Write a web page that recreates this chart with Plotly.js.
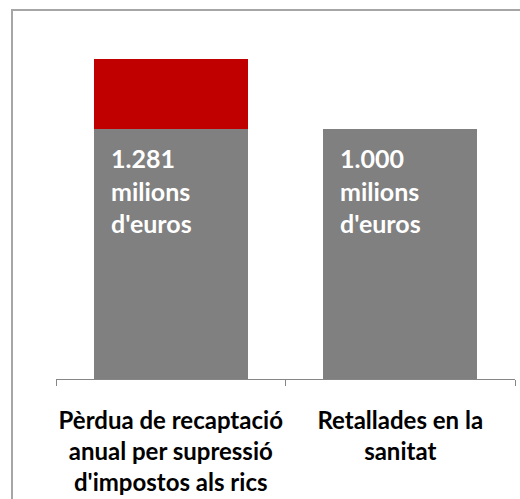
<!DOCTYPE html>
<html>
<head>
<meta charset="utf-8">
<script src="https://cdn.plot.ly/plotly-3.0.1.min.js"></script>
<style>
html,body{margin:0;padding:0;background:#fff;overflow:hidden;}
#wrap{position:relative;width:520px;height:499px;}
#chart{position:absolute;left:0;top:0;width:520px;height:499px;}
#frame{position:absolute;left:11px;top:9px;width:600px;height:600px;border:2px solid #a6a6a6;pointer-events:none;}
</style>
</head>
<body>
<div id="wrap"><div id="chart"></div><div id="frame"></div></div>
<script>
var categories = ["Pèrdua de recaptació<br>anual per supressió<br>d'impostos als rics", "Retallades en la<br>sanitat"];
var baseValues = [1000, 1000];
var extraValues = [281, 0];
var barLabels = ["1.281<br>milions<br>d'euros", "1.000<br>milions<br>d'euros"];

var FONT = "Lato, 'Open Sans', sans-serif";

var traces = [
  {type:"bar", x:categories, y:baseValues, marker:{color:"#808080"}, hoverinfo:"none"},
  {type:"bar", x:categories, y:extraValues, marker:{color:"#C00000"}, hoverinfo:"none"}
];

var annotations = categories.map(function(c,i){
  return {x:c, y:baseValues[i], xref:"x", yref:"y", text:barLabels[i], showarrow:false,
    xanchor:"left", yanchor:"top", align:"left", xshift:-62, yshift:-12,
    font:{family:FONT, size:25, color:"#ffffff", weight:"bold"}};
});

var layout = {
  width:520, height:499,
  margin:{l:56, r:5, t:29, b:120},
  barmode:"stack", bargap:0.33,
  showlegend:false,
  paper_bgcolor:"#ffffff", plot_bgcolor:"#ffffff",
  font:{family:FONT},
  xaxis:{type:"category", showline:true, linecolor:"#868686", linewidth:1,
    ticks:"outside", ticklen:6, tickcolor:"#868686", tickson:"boundaries",
    ticklabelstandoff:20, tickangle:0,
    tickfont:{family:FONT, size:24, color:"#000000", weight:"bold"}, fixedrange:true},
  yaxis:{range:[0,1400], visible:false, showgrid:false, zeroline:false, fixedrange:true},
  annotations:annotations
};

Plotly.newPlot("chart", traces, layout, {displayModeBar:false, staticPlot:true});
</script>
</body>
</html>
